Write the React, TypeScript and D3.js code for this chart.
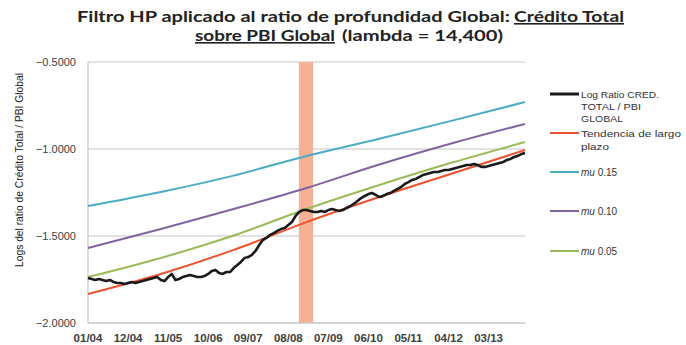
import React from "react";
import * as d3 from "d3";

// ---------- DATA ----------
const tickLabels = ["01/04", "12/04", "11/05", "10/06", "09/07", "08/08", "07/09", "06/10", "05/11", "04/12", "03/13"];
const tickStep = 11; // months between labels

// Log ratio Crédito Total / PBI Global (monthly, 01/2004 .. 01/2014)
const logRatio = [
  -1.741, -1.747, -1.753, -1.747, -1.753, -1.759, -1.753, -1.764, -1.770, -1.770,
  -1.776, -1.770, -1.764, -1.770, -1.764, -1.759, -1.753, -1.747, -1.741, -1.736,
  -1.753, -1.759, -1.736, -1.718, -1.753, -1.747, -1.736, -1.730, -1.724, -1.730,
  -1.736, -1.736, -1.730, -1.718, -1.701, -1.695, -1.713, -1.718, -1.707, -1.707,
  -1.684, -1.667, -1.649, -1.626, -1.621, -1.609, -1.586, -1.552, -1.523, -1.511,
  -1.494, -1.483, -1.471, -1.460, -1.454, -1.437, -1.420, -1.385, -1.362, -1.351,
  -1.351, -1.356, -1.362, -1.362, -1.356, -1.362, -1.351, -1.345, -1.351, -1.356,
  -1.351, -1.339, -1.328, -1.316, -1.299, -1.282, -1.270, -1.259, -1.253, -1.264,
  -1.276, -1.270, -1.259, -1.253, -1.241, -1.230, -1.218, -1.201, -1.190, -1.178,
  -1.172, -1.161, -1.149, -1.144, -1.138, -1.132, -1.132, -1.126, -1.121, -1.121,
  -1.115, -1.109, -1.103, -1.098, -1.092, -1.092, -1.086, -1.092, -1.103, -1.103,
  -1.098, -1.092, -1.086, -1.080, -1.075, -1.063, -1.057, -1.046, -1.040, -1.029,
  -1.023,
];

// smooth series sampled every 20 months
const trendMonths = [0, 20, 40, 60, 80, 100, 120];
const tendencia = [-1.833, -1.718, -1.580, -1.420, -1.276, -1.141, -1.006];
const mu015 = [-1.328, -1.247, -1.153, -1.040, -0.941, -0.837, -0.730];
const mu010 = [-1.569, -1.460, -1.345, -1.224, -1.089, -0.967, -0.856];
const mu005 = [-1.736, -1.626, -1.497, -1.345, -1.207, -1.078, -0.960];

const yTicks = [-0.5, -1.0, -1.5, -2.0];
const crisisBand = [57.9, 61.8]; // month indices

// ---------- LAYOUT ----------
const W = 686;
const H = 345;
const plot = { left: 88, right: 525, top: 62, bottom: 323 };

export default function App() {
  const x = d3.scaleLinear().domain([0, logRatio.length - 1]).range([plot.left, plot.right]);
  const y = d3.scaleLinear().domain([-2, -0.5]).range([plot.bottom, plot.top]);

  const lineRaw = d3
    .line<number>()
    .x((_, i) => x(i))
    .y((d) => y(d));

  const smooth = (vals: number[]) =>
    d3
      .line<number>()
      .x((_, i) => x(trendMonths[i]))
      .y((d) => y(d))
      .curve(d3.curveMonotoneX)(vals) as string;

  const font = "'Liberation Sans', Arial, sans-serif";
  const titleFont = "Lato, 'Liberation Sans', sans-serif";

  const legend = [
    { color: "#1a1a1a", w: 3, lines: [["Log Ratio CRED.", 78], ["TOTAL / PBI", 60], ["GLOBAL", 42]], y: 94, mu: false, gap: 12.3 },
    { color: "#EE5230", w: 2, lines: [["Tendencia de largo", 100], ["plazo", 28]], y: 133, mu: false, gap: 13 },
    { color: "#4BACC6", w: 2, lines: [[" 0.15", 26]], y: 172, mu: true, gap: 0 },
    { color: "#8064A2", w: 2, lines: [[" 0.10", 26]], y: 211, mu: true, gap: 0 },
    { color: "#9BBB59", w: 2, lines: [[" 0.05", 26]], y: 251, mu: true, gap: 0 },
  ];

  const titleSegs = [
    { t: "Filtro HP aplicado al ratio de profundidad  Global:", x0: 77, x1: 510, y: 22, u: false },
    { t: "Crédito Total", x0: 514, x1: 624, y: 22, u: true },
    { t: "sobre PBI Global", x0: 195, x1: 335, y: 41, u: true },
    { t: "(lambda = 14,400)", x0: 342, x1: 503, y: 41, u: false },
  ];

  return (
    <svg
      width={W}
      height={H}
      style={{ position: "absolute", left: 0, top: 0, background: "#fff" }}
      fontFamily={font}
    >
      {/* title */}
      {titleSegs.map((s) => (
        <text
          key={s.t}
          x={s.x0}
          y={s.y}
          fontFamily={titleFont}
          fontSize={16}
          fontWeight="bold"
          fill="#222"
          textLength={s.x1 - s.x0}
          lengthAdjust="spacingAndGlyphs"
          textDecoration={s.u ? "underline" : undefined}
        >
          {s.t}
        </text>
      ))}

      {/* gridlines */}
      {yTicks.slice(0, 3).map((t) => (
        <line key={t} x1={plot.left} x2={plot.right} y1={y(t)} y2={y(t)} stroke="#D9D9D9" strokeWidth={1.5} />
      ))}

      {/* crisis band */}
      <rect
        x={x(crisisBand[0])}
        width={x(crisisBand[1]) - x(crisisBand[0])}
        y={plot.top}
        height={plot.bottom - plot.top}
        fill="#F5B095"
      />

      {/* axes */}
      <line x1={plot.left} x2={plot.left} y1={plot.top} y2={plot.bottom} stroke="#C8C8C8" strokeWidth={1.2} />
      <line x1={plot.left} x2={plot.right} y1={plot.bottom} y2={plot.bottom} stroke="#C8C8C8" strokeWidth={1.5} />

      {/* y tick labels */}
      {yTicks.map((t) => (
        <text key={t} x={76} y={y(t) + 4} fontSize={11} textAnchor="end" fill="#404040">
          {d3.format(".4f")(t)}
        </text>
      ))}

      {/* x tick labels */}
      {tickLabels.map((lab, k) => (
        <text key={lab} x={x(k * tickStep)} y={342} fontSize={11.5} fontWeight="bold" textAnchor="middle" fill="#404040">
          {lab}
        </text>
      ))}

      {/* y axis title */}
      <text
        transform={`translate(23,170) rotate(-90)`}
        fontSize={10.5}
        textAnchor="middle"
        fill="#222"
        textLength={194}
        lengthAdjust="spacingAndGlyphs"
      >
        Logs del ratio de Crédito Total / PBI Global
      </text>

      {/* series */}
      <path d={smooth(mu015)} fill="none" stroke="#4BACC6" strokeWidth={2} />
      <path d={smooth(mu010)} fill="none" stroke="#8064A2" strokeWidth={2} />
      <path d={smooth(mu005)} fill="none" stroke="#9BBB59" strokeWidth={2} />
      <path d={smooth(tendencia)} fill="none" stroke="#EE5230" strokeWidth={2} />
      <path d={lineRaw(logRatio) as string} fill="none" stroke="#1a1a1a" strokeWidth={2.6} strokeLinejoin="round" />

      {/* legend */}
      {legend.map((item) => (
        <g key={item.y}>
          <line x1={550} x2={579} y1={item.y} y2={item.y} stroke={item.color} strokeWidth={item.w} />
          {item.lines.map(([ln, wdt], j) =>
            item.mu ? (
              <text key={j} x={581} y={item.y + 3.5} fontSize={10} fill="#333">
                <tspan fontStyle="italic">mu</tspan>
                <tspan>{ln as string}</tspan>
              </text>
            ) : (
              <text
                key={j}
                x={581}
                y={item.y + 3.5 + j * item.gap}
                fontSize={9.5}
                fill="#333"
                textLength={wdt as number}
                lengthAdjust="spacingAndGlyphs"
              >
                {ln as string}
              </text>
            )
          )}
        </g>
      ))}
    </svg>
  );
}
